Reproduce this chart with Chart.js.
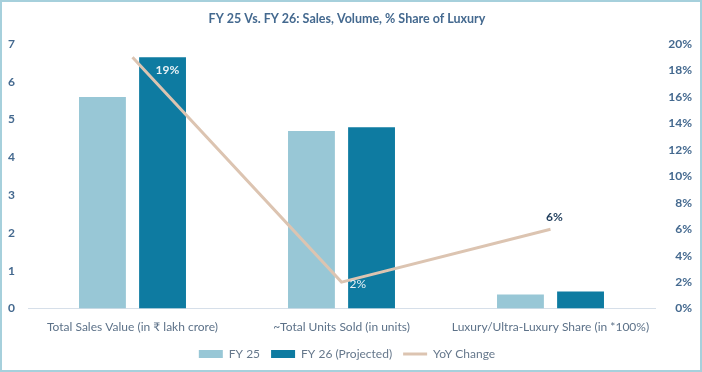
<!DOCTYPE html>
<html>
<head>
<meta charset="utf-8">
<script src="https://cdn.jsdelivr.net/npm/chart.js@4/dist/chart.umd.min.js"></script>
<style>
  html, body { margin: 0; padding: 0; background: #fff; }
  .frame { width: 698px; height: 368px; border: 2px solid #a6d0dc; position: relative; }
  canvas { display: block; }
</style>
</head>
<body>
<div class="frame"><canvas id="c" width="698" height="368"></canvas></div>
<script>
// ---------- dados ----------
const categories = ['Total Sales Value (in \u20b9 lakh crore)', '~Total Units Sold (in units)', 'Luxury/Ultra-Luxury Share (in *100%)'];
const fy25 = [5.6, 4.7, 0.37];
const fy26 = [6.65, 4.8, 0.45];
const yoyChange = [0.19, 0.02, 0.06];
const yoyLabels = ['19%', '2%', '6%'];

const FONT = "'Lato', 'Open Sans', sans-serif";

// rótulos da linha YoY
const yoyLabelPlugin = {
  id: 'yoyLabels',
  afterDatasetsDraw(chart) {
    const meta = chart.getDatasetMeta(2);
    const ctx = chart.ctx;
    const spec = [
      { dx: 23, dy: 13, color: '#e8f1f5', bold: true, align: 'left' },
      { dx: 8, dy: 2, color: '#e8f1f5', bold: false, align: 'left' },
      { dx: 4, dy: -12, color: '#1f3d5c', bold: true, align: 'center' },
    ];
    ctx.save();
    meta.data.forEach((pt, i) => {
      const s = spec[i];
      ctx.font = (s.bold ? 'bold ' : '') + '12px ' + FONT;
      ctx.fillStyle = s.color;
      ctx.textAlign = s.align;
      ctx.textBaseline = 'middle';
      ctx.fillText(yoyLabels[i], pt.x + s.dx, pt.y + s.dy);
    });
    ctx.restore();
  },
};

new Chart(document.getElementById('c').getContext('2d'), {
  type: 'bar',
  data: {
    labels: categories,
    datasets: [
      { label: 'FY 25', data: fy25, backgroundColor: '#98c7d6', yAxisID: 'y', order: 1, pointStyle: 'rect',
        barPercentage: 0.78, categoryPercentage: 0.575 },
      { label: 'FY 26 (Projected)', data: fy26, backgroundColor: '#0e7ba1', yAxisID: 'y', order: 1, pointStyle: 'rect',
        barPercentage: 0.78, categoryPercentage: 0.575 },
      { type: 'line', label: 'YoY Change', data: yoyChange, yAxisID: 'y2', order: 0,
        borderColor: '#dcc4b1', backgroundColor: '#dcc4b1', borderWidth: 3, tension: 0,
        pointRadius: 0, pointStyle: 'line' },
    ],
  },
  options: {
    responsive: false, animation: false,
    layout: { padding: { left: 0, right: 8, top: 0, bottom: 0 } },
    plugins: {
      title: {
        display: true, text: 'FY 25 Vs. FY 26: Sales, Volume, % Share of Luxury',
        color: '#44698f', font: { family: FONT, size: 12.5, weight: 'bold' },
        padding: { top: 9, bottom: 18 },
      },
      legend: {
        position: 'bottom',
        labels: {
          usePointStyle: true, pointStyleWidth: 24, boxHeight: 8,
          color: '#66788c', font: { family: FONT, size: 12 }, padding: 11,
          sort: (a, b) => a.datasetIndex - b.datasetIndex,
        },
      },
      tooltip: { enabled: false },
    },
    scales: {
      x: {
        grid: { display: false },
        border: { color: '#d6dfe9', width: 1 },
        ticks: { color: '#5d7289', font: { family: FONT, size: 12 }, maxRotation: 0, padding: 3 },
      },
      y: {
        position: 'left', min: 0, max: 7,
        grid: { display: false }, border: { display: false },
        ticks: { stepSize: 1, color: '#44698f', font: { family: FONT, size: 12, weight: 'bold' }, padding: 5 },
        afterFit: (s) => { s.width = 26; },
      },
      y2: {
        position: 'right', min: 0, max: 0.2,
        grid: { display: false }, border: { display: false },
        ticks: {
          stepSize: 0.02, crossAlign: 'far',
          callback: (v) => Math.round(v * 100) + '%',
          color: '#44698f', font: { family: FONT, size: 12, weight: 'bold' },
        },
        afterFit: (s) => { s.width = 37; },
      },
    },
  },
  plugins: [yoyLabelPlugin],
});
</script>
</body>
</html>
